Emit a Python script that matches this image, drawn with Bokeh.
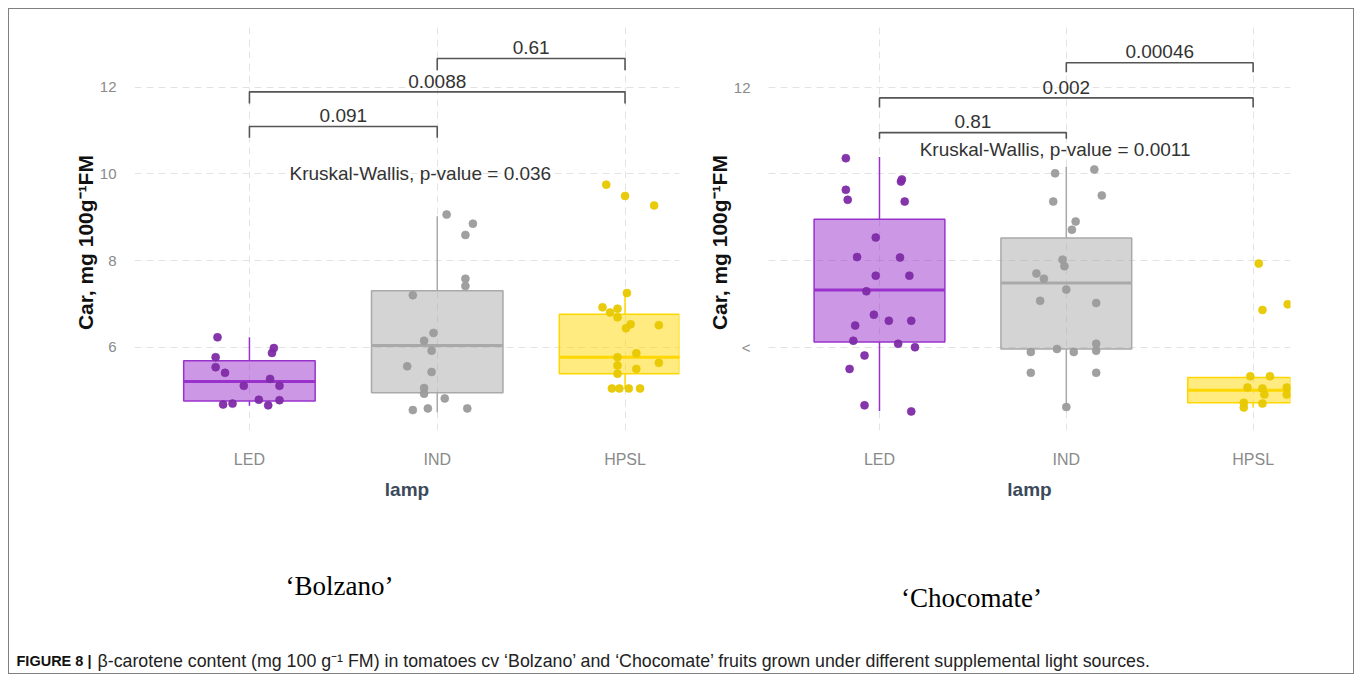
from bokeh.plotting import figure
from bokeh.layouts import column, row
from bokeh.models import Range1d, FixedTicker, ColumnDataSource
from bokeh.core.properties import value
from bokeh.embed import file_html
from bokeh.resources import INLINE

LAMPS = ["LED", "IND", "HPSL"]
Y_TICKS = [6, 8, 10, 12]
Y_LABEL = "Car, mg 100g\u207b\u00b9FM"
X_LABEL = "lamp"

# ---- 'Bolzano' -------------------------------------------------------
B_LED_DX = [-0.17, -0.18, -0.18, -0.13, -0.03, -0.14, -0.09, 0.05, 0.11, 0.12, 0.13, 0.16, 0.10, 0.16]
B_LED_Y = [6.23, 5.77, 5.54, 5.41, 5.11, 4.68, 4.70, 4.79, 5.27, 5.87, 5.98, 5.11, 4.66, 4.78]
B_IND_DX = [0.05, 0.19, 0.15, 0.15, 0.15, -0.13, -0.02, -0.07, -0.03, -0.16, -0.03, -0.07, -0.07, 0.04, -0.13, -0.05, 0.16]
B_IND_Y = [9.06, 8.85, 8.59, 7.58, 7.41, 7.20, 6.33, 6.15, 5.92, 5.56, 5.43, 5.06, 4.93, 4.82, 4.55, 4.59, 4.59]
B_HPSL_DX = [-0.10, 0.00, 0.155, 0.01, -0.12, -0.08, -0.04, -0.04, 0.03, 0.005, 0.18, -0.04, 0.06, -0.04, 0.06, -0.04, 0.18, -0.07, -0.03, 0.02, 0.08]
B_HPSL_Y = [9.75, 9.49, 9.27, 7.25, 6.92, 6.80, 6.89, 6.69, 6.53, 6.44, 6.51, 5.77, 5.86, 5.58, 5.50, 5.39, 5.64, 5.05, 5.05, 5.05, 5.05]
B_Q1 = [4.76, 4.95, 5.39]
B_MED = [5.21, 6.04, 5.77]
B_Q3 = [5.69, 7.30, 6.76]
B_LO = [4.65, 4.50, 5.05]
B_HI = [6.23, 9.02, 7.25]
B_BR_FROM = [1, 1, 2]
B_BR_TO = [2, 3, 3]
B_BR_Y = [11.09, 11.89, 12.66]
B_BR_TIP = [10.83, 11.62, 12.39]
B_BR_TEXT = ["0.091", "0.0088", "0.61"]
B_BR_TEXT_Y = [11.34, 12.13, 12.91]
B_KW_TEXT = "Kruskal-Wallis, p-value = 0.036"
B_KW_X = 1.91
B_KW_Y = 10.0

# ---- 'Chocomate' -----------------------------------------------------
C_LED_DX = [-0.18, 0.12, 0.115, -0.18, -0.17, 0.135, -0.02, -0.12, 0.11, -0.02, 0.16, -0.07,
            -0.03, 0.05, 0.17, -0.13, -0.14, 0.10, 0.19, -0.08, -0.16, -0.08, 0.17]
C_LED_Y = [10.36, 9.87, 9.82, 9.63, 9.40, 9.36, 8.53, 8.08, 8.07, 7.65, 7.65, 7.29,
           6.75, 6.61, 6.61, 6.50, 6.15, 6.08, 6.00, 5.81, 5.50, 4.66, 4.52]
C_IND_DX = [-0.06, 0.15, 0.19, -0.07, 0.05, 0.03, -0.02, -0.01, -0.16, -0.12, 0.00,
            -0.14, 0.16, 0.16, 0.16, -0.19, -0.05, 0.04, -0.19, 0.16, 0.00]
C_IND_Y = [10.01, 10.10, 9.50, 9.36, 8.90, 8.71, 8.02, 7.87, 7.70, 7.58, 7.33,
           7.07, 7.02, 6.08, 5.92, 5.89, 5.96, 5.89, 5.41, 5.41, 4.62]
C_HPSL_DX = [0.03, 0.05, 0.185, -0.015, 0.09, -0.03, 0.05, 0.06, -0.05, 0.05, -0.05, 0.18, 0.18]
C_HPSL_Y = [7.93, 6.86, 6.99, 5.33, 5.33, 5.07, 5.05, 4.91, 4.72, 4.70, 4.61, 5.07, 4.91]
C_Q1 = [6.12, 5.96, 4.72]
C_MED = [7.32, 7.48, 5.01]
C_Q3 = [8.95, 8.52, 5.30]
C_LO = [4.53, 4.62, 4.61]
C_HI = [10.39, 10.16, 5.33]
C_BR_FROM = [1, 1, 2]
C_BR_TO = [2, 3, 3]
C_BR_Y = [10.95, 11.75, 12.56]
C_BR_TIP = [10.81, 11.53, 12.34]
C_BR_TEXT = ["0.81", "0.002", "0.00046"]
C_BR_TEXT_Y = [11.20, 12.00, 12.82]
C_KW_TEXT = "Kruskal-Wallis, p-value = 0.0011"
C_KW_X = 1.94
C_KW_Y = 10.55

LINE_COLORS = ["#9932CC", "#A9A9A9", "#FFD700"]
POINT_COLORS = ["#7E2BA6", "#9B9B9B", "#E8C800"]

TITLES = ["\u2018Bolzano\u2019", "\u2018Chocomate\u2019"]
CAPTION_BOLD = "FIGURE 8 |"
CAPTION_TEXT = ("\u03b2-carotene content (mg 100 g\u207b\u00b9 FM) in tomatoes cv \u2018Bolzano\u2019 and "
                "\u2018Chocomate\u2019 fruits grown under different supplemental light sources.")

SANS = "Liberation Sans"
GRID = "#e3e3e3"
PAD = "\u00a0" * 5   # keeps the rotated axis title a little below the frame centre, as in the original


def panel(width, height, borders, x_rng, y_rng, jit, box, br, kw, ytick_overrides):
    lb, rb, tb, bb = borders
    p = figure(width=width, height=height, x_range=Range1d(*x_rng), y_range=Range1d(*y_rng),
               output_backend="svg", toolbar_location=None,
               min_border_left=lb, min_border_right=rb, min_border_top=tb, min_border_bottom=bb)
    p.outline_line_color = None
    p.background_fill_color = "white"
    p.border_fill_color = "white"
    p.xaxis.ticker = FixedTicker(ticks=[1, 2, 3])
    p.xaxis.major_label_overrides = {i + 1: lab for i, lab in enumerate(LAMPS)}
    p.yaxis.ticker = FixedTicker(ticks=Y_TICKS)
    p.yaxis.major_label_overrides = ytick_overrides
    for ax in (p.xaxis, p.yaxis):
        ax.axis_line_color = None
        ax.major_tick_line_color = None
        ax.minor_tick_line_color = None
        ax.major_label_text_color = "#8a8a8a"
        ax.major_label_text_font = SANS
    p.xaxis.major_label_text_font_size = "16px"
    p.yaxis.major_label_text_font_size = "15px"
    p.xaxis.major_label_standoff = 14
    p.yaxis.major_label_standoff = 12
    p.xaxis.axis_label = X_LABEL
    p.xaxis.axis_label_text_font = SANS
    p.xaxis.axis_label_text_font_style = "bold"
    p.xaxis.axis_label_text_font_size = "19px"
    p.xaxis.axis_label_text_color = "#3b4a5a"
    p.xaxis.axis_label_standoff = 8
    p.yaxis.axis_label = Y_LABEL + PAD
    p.yaxis.axis_label_text_font = SANS
    p.yaxis.axis_label_text_font_style = "bold"
    p.yaxis.axis_label_text_font_size = "21px"
    p.yaxis.axis_label_text_color = "#111111"
    p.yaxis.axis_label_standoff = 0
    p.xgrid.ticker = FixedTicker(ticks=[1, 2, 3])
    p.ygrid.ticker = FixedTicker(ticks=Y_TICKS)
    for g in (p.xgrid, p.ygrid):
        g.grid_line_color = GRID
        g.grid_line_dash = "7 5"
        g.grid_line_width = 1

    q1, med, q3, lo, hi = box
    cats = [1, 2, 3]
    bw = 0.7
    for i, c in enumerate(cats):
        col = LINE_COLORS[i]
        p.segment(x0=[c, c], y0=[q3[i], q1[i]], x1=[c, c], y1=[hi[i], lo[i]], line_color=col, line_width=1.5)
        p.vbar(x=[c], width=bw, bottom=[q1[i]], top=[q3[i]], fill_color=col, fill_alpha=0.5,
               line_color=col, line_width=1.5)
        p.segment(x0=[c - bw / 2], y0=[med[i]], x1=[c + bw / 2], y1=[med[i]], line_color=col, line_width=3)
    for i, (dx, ys) in enumerate(jit):
        p.scatter(x=[cats[i] + d for d in dx], y=ys, size=8, fill_color=POINT_COLORS[i],
                  line_color=POINT_COLORS[i], fill_alpha=0.95, line_alpha=0.6)

    bf, bt, by, btip, btxt, bty = br
    xs = [[a, a, b, b] for a, b in zip(bf, bt)]
    ys = [[t, y, y, t] for y, t in zip(by, btip)]
    p.multi_line(xs=xs, ys=ys, line_color="#555555", line_width=1.6)
    src = ColumnDataSource(dict(x=[(a + b) / 2 for a, b in zip(bf, bt)], y=bty, t=btxt))
    p.text(x="x", y="y", text="t", source=src, text_align="center", text_baseline="middle",
           text_font=value(SANS), text_font_size="19px", text_color="#333333")
    p.text(x=[kw[1]], y=[kw[2]], text=[kw[0]], text_align="center", text_baseline="middle",
           text_font=value(SANS), text_font_size="19px", text_color="#333333")
    return p


Y_RANGE = (4.08, 13.42)

left = panel(672, 560, (125, 2, 14, 139), (0.388, 3.29), Y_RANGE,
             [(B_LED_DX, B_LED_Y), (B_IND_DX, B_IND_Y), (B_HPSL_DX, B_HPSL_Y)],
             (B_Q1, B_MED, B_Q3, B_LO, B_HI),
             (B_BR_FROM, B_BR_TO, B_BR_Y, B_BR_TIP, B_BR_TEXT, B_BR_TEXT_Y),
             (B_KW_TEXT, B_KW_X, B_KW_Y), {})
right = panel(672, 560, (87, 63, 16, 136), (0.406, 3.2), Y_RANGE,
              [(C_LED_DX, C_LED_Y), (C_IND_DX, C_IND_Y), (C_HPSL_DX, C_HPSL_Y)],
              (C_Q1, C_MED, C_Q3, C_LO, C_HI),
              (C_BR_FROM, C_BR_TO, C_BR_Y, C_BR_TIP, C_BR_TEXT, C_BR_TEXT_Y),
              (C_KW_TEXT, C_KW_X, C_KW_Y), {6: "<", 8: "", 10: ""})

# bottom strip: panel titles + caption (y measured downward, in px)
CAP_W, CAP_H = 1344, 104
cap = figure(width=CAP_W, height=CAP_H, x_range=Range1d(0, CAP_W), y_range=Range1d(CAP_H, 0),
             output_backend="svg", toolbar_location=None, min_border=0)
cap.axis.visible = False
cap.grid.visible = False
cap.outline_line_color = None
TITLE_X = [330, 962]
TITLE_Y = [16, 28]
cap.text(x=TITLE_X, y=TITLE_Y, text=TITLES, text_align="center", text_baseline="middle",
         text_font=value("Liberation Serif"), text_font_size="27px", text_color="#000000")
cap.text(x=[7], y=[91], text=[CAPTION_BOLD], text_baseline="middle", text_font=value(SANS),
         text_font_style="bold", text_font_size="14.5px", text_color="#111111")
cap.text(x=[88], y=[91], text=[CAPTION_TEXT], text_baseline="middle", text_font=value(SANS),
         text_font_size="17.8px", text_color="#222222")

layout = column(row(left, right), cap,
                styles={"border": "1px solid #808080", "margin-left": "8px", "margin-top": "8px"})

open("out.html", "w").write(file_html(layout, INLINE))
